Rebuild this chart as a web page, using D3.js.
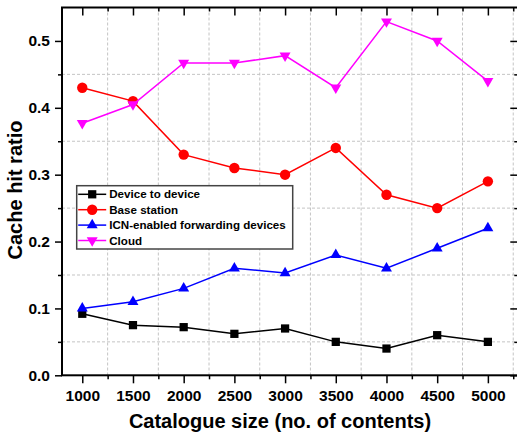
<!DOCTYPE html>
<html>
<head>
<meta charset="utf-8">
<script src="https://cdn.jsdelivr.net/npm/d3@7"></script>
<style>
  body { margin: 0; background: #fff; }
  svg { display: block; font-family: "Liberation Sans", Arial, sans-serif; font-weight: bold; }
</style>
</head>
<body>
<div id="chart"></div>
<script>
// chart values
const catalogue = [1000, 1500, 2000, 2500, 3000, 3500, 4000, 4500, 5000]
const deviceToDevice = [0.092, 0.075, 0.072, 0.062, 0.070, 0.050, 0.040, 0.060, 0.050]
const baseStation = [0.43, 0.41, 0.33, 0.31, 0.30, 0.34, 0.27, 0.25, 0.29]
const icnDevices = [0.100, 0.110, 0.130, 0.160, 0.153, 0.180, 0.160, 0.190, 0.220]
const cloud = [0.377, 0.405, 0.467, 0.467, 0.478, 0.430, 0.529, 0.500, 0.440]
const seriesNames = ["Device to device", "Base station", "ICN-enabled forwarding devices", "Cloud"]
const xTicks = [1000, 1500, 2000, 2500, 3000, 3500, 4000, 4500, 5000]
const yTicks = [0.0, 0.1, 0.2, 0.3, 0.4, 0.5]

const width = 517, height = 437
const margin = { top: 7.5, left: 62, bottom: 375.3, right: 518.3 }

const series = [
  { name: seriesNames[0], values: deviceToDevice, colour: "#000000", symbol: d3.symbolSquare, size: 68, rotate: 0 },
  { name: seriesNames[1], values: baseStation, colour: "#ff0000", symbol: d3.symbolCircle, size: 85, rotate: 0 },
  { name: seriesNames[2], values: icnDevices, colour: "#0000ff", symbol: d3.symbolTriangle, size: 52, rotate: 0 },
  { name: seriesNames[3], values: cloud, colour: "#ff00ff", symbol: d3.symbolTriangle, size: 52, rotate: 180 }
]

const svg = d3.select("#chart").append("svg")
  .attr("width", width)
  .attr("height", height)

const x = d3.scaleLinear().domain([800, 5300]).range([margin.left, margin.right])
const y = d3.scaleLinear().domain([0, 0.55]).range([margin.bottom, margin.top])

const xMinor = d3.range(1250, 5300, 500)
const yMinor = d3.range(0.05, 0.55, 0.1)

// dashed grid at the minor ticks
svg.append("g").selectAll("line.vx")
  .data(xMinor).join("line")
  .attr("x1", d => x(d)).attr("x2", d => x(d))
  .attr("y1", margin.top).attr("y2", margin.bottom)
  .attr("stroke", "#c4c4c4").attr("stroke-dasharray", "3,2")
svg.append("g").selectAll("line.hy")
  .data(yMinor).join("line")
  .attr("x1", margin.left).attr("x2", margin.right)
  .attr("y1", d => y(d)).attr("y2", d => y(d))
  .attr("stroke", "#c4c4c4").attr("stroke-dasharray", "3,2")

// axes
const styleAxis = g => {
  g.selectAll(".domain").remove()
  g.selectAll(".tick line").attr("stroke", "#000").attr("stroke-width", 1.5)
  g.selectAll("text").attr("font-size", 15.5).attr("font-weight", "bold").attr("fill", "#000")
    .attr("font-family", "Liberation Sans, Arial, sans-serif")
}

svg.append("g").attr("transform", `translate(0,${margin.bottom})`)
  .call(d3.axisBottom(x).tickValues(xTicks).tickSize(8).tickPadding(7).tickFormat(d3.format("d")))
  .call(styleAxis)
svg.append("g").attr("transform", `translate(0,${margin.bottom})`)
  .call(d3.axisBottom(x).tickValues(xMinor).tickSize(4).tickFormat(""))
  .call(styleAxis)

svg.append("g").attr("transform", `translate(${margin.left},0)`)
  .call(d3.axisLeft(y).tickValues(yTicks).tickSize(7).tickPadding(5).tickFormat(d3.format(".1f")))
  .call(styleAxis)
svg.append("g").attr("transform", `translate(${margin.left},0)`)
  .call(d3.axisLeft(y).tickValues(yMinor).tickSize(4).tickFormat(""))
  .call(styleAxis)

// mirrored inward ticks on top and right
svg.append("g").attr("transform", `translate(0,${margin.top})`)
  .call(d3.axisTop(x).tickValues(xTicks).tickSize(-8).tickFormat(""))
  .call(styleAxis)
svg.append("g").attr("transform", `translate(0,${margin.top})`)
  .call(d3.axisTop(x).tickValues(xMinor).tickSize(-4).tickFormat(""))
  .call(styleAxis)
svg.append("g").attr("transform", `translate(${margin.right},0)`)
  .call(d3.axisRight(y).tickValues(yTicks).tickSize(-8).tickFormat(""))
  .call(styleAxis)
svg.append("g").attr("transform", `translate(${margin.right},0)`)
  .call(d3.axisRight(y).tickValues(yMinor).tickSize(-4).tickFormat(""))
  .call(styleAxis)

// frame
svg.append("rect")
  .attr("x", margin.left).attr("y", margin.top)
  .attr("width", margin.right + 2 - margin.left).attr("height", margin.bottom - margin.top)
  .attr("fill", "none").attr("stroke", "#000").attr("stroke-width", 2)

// series
const line = d3.line()
  .x((d, i) => x(catalogue[i]))
  .y(d => y(d))

series.forEach(s => {
  svg.append("path")
    .datum(s.values)
    .attr("d", line)
    .attr("fill", "none")
    .attr("stroke", s.colour)
    .attr("stroke-width", 1.5)

  svg.append("g").selectAll("path")
    .data(s.values).join("path")
    .attr("d", d3.symbol().type(s.symbol).size(s.size))
    .attr("transform", (d, i) => `translate(${x(catalogue[i])},${y(d)}) rotate(${s.rotate})`)
    .attr("fill", s.colour)
})

// legend
const legend = svg.append("g").attr("transform", "translate(76.7,185.7)")
legend.append("rect")
  .attr("width", 216).attr("height", 63.3)
  .attr("fill", "#fff").attr("stroke", "#444").attr("stroke-width", 1.5)

series.forEach((s, i) => {
  const row = legend.append("g").attr("transform", `translate(0,${8.6 + i * 15.4})`)
  row.append("line")
    .attr("x1", 1.5).attr("x2", 29.5)
    .attr("stroke", s.colour).attr("stroke-width", 1.5)
  row.append("path")
    .attr("d", d3.symbol().type(s.symbol).size(s.size))
    .attr("transform", `translate(15.5,0) rotate(${s.rotate})`)
    .attr("fill", s.colour)
  row.append("text")
    .attr("x", 32.5).attr("dy", "0.36em")
    .attr("font-size", 11.6)
    .text(s.name)
})

// axis titles
svg.append("text")
  .attr("x", 280).attr("y", 428)
  .attr("text-anchor", "middle")
  .attr("font-size", 20)
  .text("Catalogue size (no. of contents)")

svg.append("text")
  .attr("transform", "translate(22,190) rotate(-90)")
  .attr("text-anchor", "middle")
  .attr("font-size", 20)
  .text("Cache hit ratio")
</script>
</body>
</html>
